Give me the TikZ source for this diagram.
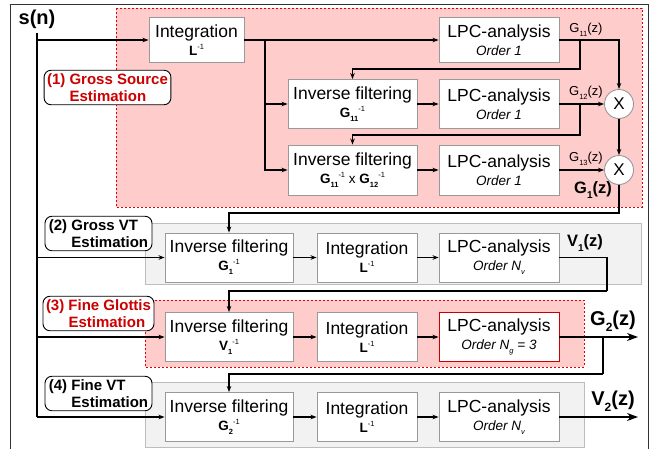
\documentclass[tikz,border=0pt]{standalone}
\usepackage{fontspec}
\setmainfont{Liberation Sans}
\usetikzlibrary{arrows.meta}
\definecolor{pinkfill}{HTML}{FFCCCC}
\definecolor{redline}{HTML}{E00000}
\definecolor{redtext}{HTML}{CC0000}
\definecolor{grayfill}{HTML}{F2F2F2}
\definecolor{grayline}{HTML}{BDBDBD}
\definecolor{boxline}{HTML}{999999}
\newcommand\upidx[1]{\raisebox{0.45em}{\fontsize{7.5}{8}\selectfont #1}}
\newcommand\dnidx[1]{\raisebox{-0.3em}{\fontsize{7.5}{8}\selectfont #1}}
\newcommand\secondline{\fontsize{13.5}{15}\selectfont}
\tikzset{
  blk/.style={draw=boxline, line width=0.9pt, fill=white, align=center, inner sep=0pt,
    font=\fontsize{17.5}{19}\selectfont},
  intbox/.style={blk, minimum width=100pt, minimum height=49pt},
  lpcbox/.style={blk, minimum width=120pt, minimum height=49pt},
  invbox/.style={blk, minimum width=128pt, minimum height=49pt},
  mulnode/.style={circle, draw=boxline, line width=0.9pt, fill=white, minimum size=29pt, inner sep=0pt,
    font=\fontsize{17}{19}\selectfont},
  stagelabel/.style={draw=black, line width=0.9pt, fill=white, rounded corners=7pt, align=left,
    inner xsep=3pt, inner ysep=3pt, font=\fontsize{15}{17.5}\selectfont\bfseries},
  pinkregion/.style={fill=pinkfill, draw=redline, line width=1pt, dash pattern=on 2pt off 2pt},
  grayregion/.style={fill=grayfill, draw=grayline, line width=1pt},
  conn/.style={line width=1.1pt},
  arr/.style={conn, -{Stealth[length=6pt,width=4.5pt]}},
  bigarr/.style={conn, -{Stealth[length=11pt,width=8pt]}},
  sig/.style={font=\fontsize{13}{15}\selectfont, inner sep=0pt},
  bigsig/.style={font=\fontsize{16.5}{18}\selectfont\bfseries, inner sep=0pt},
  hugesig/.style={font=\fontsize{20}{22}\selectfont\bfseries, inner sep=0pt},
}
\begin{document}
\begin{tikzpicture}[x=1pt,y=-1pt]
\useasboundingbox (0,0) rectangle (651,448);
% outer frame
\draw[line width=1pt, draw=black!80] (10,449) -- (10,4) -- (648,4) -- (648,449);
% regions
\path[pinkregion] (116,8) rectangle (642,207);
\path[grayregion] (145,223) rectangle (641,284);
\path[pinkregion] (145,300) rectangle (584,367);
\path[grayregion] (145,382) rectangle (584,447);

% input
\node[hugesig] (sn) at (37,19) {s(n)};
\coordinate (stop) at (37,33);
\coordinate (sbot) at (37,417);
\draw[line width=1.8pt] (stop) -- (sbot);

% stage 1
\node[blk, minimum width=95pt, minimum height=45pt] (int1) at (196.5,40)
  {Integration\\[-1pt]{\secondline\textbf{L}\upidx{-1}}};
\node[lpcbox, minimum height=45pt] (lpc1) at (499,40)
  {LPC-analysis\\[-1pt]{\secondline\itshape Order 1}};
\node[blk, minimum width=129pt, minimum height=49pt] (inv2) at (352.5,104)
  {Inverse filtering\\[-1pt]{\secondline\textbf{G}\dnidx{\textbf{11}}\upidx{-1}}};
\node[lpcbox] (lpc2) at (499,104)
  {LPC-analysis\\[-1pt]{\secondline\itshape Order 1}};
\node[blk, minimum width=129pt, minimum height=50pt] (inv3) at (352.5,170)
  {Inverse filtering\\[-1pt]{\secondline\textbf{G}\dnidx{\textbf{11}}\upidx{-1} x \textbf{G}\dnidx{\textbf{12}}\upidx{-1}}};
\node[lpcbox, minimum height=50pt] (lpc3) at (499,170)
  {LPC-analysis\\[-1pt]{\secondline\itshape Order 1}};
\node[mulnode] (x1) at (619,104) {X};
\node[mulnode] (x2) at (619,170) {X};

\coordinate (s1) at (37,40);
\draw[arr] (s1) -- (int1.west);
\coordinate (b1) at (265,40);
\draw[arr] (int1.east) -- (lpc1.west);
\draw[arr] (b1) |- (inv2.west);
\draw[arr] (b1) |- (inv3.west);
\draw[arr] (lpc1.east) -| (x1.north);
\coordinate (f1) at (580,40);
\coordinate (f1c) at (580,69);
\draw[arr] (f1) -- (f1c) -| (inv2.north);
\draw[arr] (inv2.east) -- (lpc2.west);
\draw[arr] (lpc2.east) -- (x1.west);
\coordinate (f2) at (580,104);
\coordinate (f2c) at (580,135);
\draw[arr] (f2) -- (f2c) -| (inv3.north);
\draw[arr] (inv3.east) -- (lpc3.west);
\draw[arr] (lpc3.east) -- (x2.west);
\draw[arr] (x1.south) -- (x2.north);
\node[sig] (g11) at (586,30) {G\dnidx{11}(z)};
\node[sig] (g12) at (586,93) {G\dnidx{12}(z)};
\node[sig] (g13) at (586,159) {G\dnidx{13}(z)};
\node[bigsig] (g1) at (593,190) {G\dnidx{\fontsize{10}{10}\selectfont 1}(z)};

\node[stagelabel, minimum width=123pt] (l1) at (107.5,87.5)
  {\color{redtext}(1) Gross Source\\\color{redtext}\hphantom{(1)~}Estimation};

% stage 2
\node[invbox] (invA) at (229,257.5)
  {Inverse filtering\\[-1pt]{\secondline\textbf{G}\dnidx{\textbf{1}}\upidx{-1}}};
\node[intbox] (intA) at (367,257.5)
  {Integration\\[-1pt]{\secondline\textbf{L}\upidx{-1}}};
\node[lpcbox] (lpcA) at (499,257.5)
  {LPC-analysis\\[-1pt]{\secondline\itshape Order N\dnidx{v}}};
\coordinate (x2d) at (619,213);
\draw[arr] (x2.south) -- (x2d) -| (invA.north);
\coordinate (s2) at (37,257.5);
\draw[arr] (s2) -- (invA.west);
\draw[arr] (invA.east) -- (intA.west);
\draw[arr] (intA.east) -- (lpcA.west);
\node[bigsig] (v1) at (585,243) {V\dnidx{\fontsize{10}{10}\selectfont 1}(z)};
\coordinate (vA) at (607,257.5);
\coordinate (vAd) at (607,291);
\draw[conn] (lpcA.east) -- (vA) -- (vAd);
\node[stagelabel, minimum width=107pt] (l2) at (98.5,233.5)
  {(2) Gross VT\\\hphantom{(2)~}Estimation};

% stage 3
\node[invbox] (invB) at (229,337)
  {Inverse filtering\\[-1pt]{\secondline\textbf{V}\dnidx{\textbf{1}}\upidx{-1}}};
\node[intbox] (intB) at (367,337)
  {Integration\\[-1pt]{\secondline\textbf{L}\upidx{-1}}};
\node[lpcbox, draw=redtext] (lpcB) at (499,337)
  {LPC-analysis\\[-1pt]{\secondline\itshape Order N\dnidx{g} = 3}};
\draw[arr] (vAd) -| (invB.north);
\coordinate (s3) at (37,337);
\draw[arr] (s3) -- (invB.west);
\draw[arr] (invB.east) -- (intB.west);
\draw[arr] (intB.east) -- (lpcB.west);
\coordinate (o3) at (638,337);
\draw[bigarr] (lpcB.east) -- (o3);
\node[hugesig] (g2) at (613,321) {G\dnidx{\fontsize{12}{12}\selectfont 2}(z)};
\coordinate (b3) at (603,337);
\coordinate (b3d) at (603,374);
\draw[conn] (b3) -- (b3d);
\node[stagelabel, minimum width=107pt] (l3) at (98.5,313.5)
  {\color{redtext}(3) Fine Glottis\\\color{redtext}\hphantom{(3)~}Estimation};

% stage 4
\node[invbox] (invC) at (229,417)
  {Inverse filtering\\[-1pt]{\secondline\textbf{G}\dnidx{\textbf{2}}\upidx{-1}}};
\node[intbox] (intC) at (367,417)
  {Integration\\[-1pt]{\secondline\textbf{L}\upidx{-1}}};
\node[lpcbox] (lpcC) at (499,417)
  {LPC-analysis\\[-1pt]{\secondline\itshape Order N\dnidx{v}}};
\draw[arr] (b3d) -| (invC.north);
\draw[arr] (sbot) -- (invC.west);
\draw[arr] (invC.east) -- (intC.west);
\draw[arr] (intC.east) -- (lpcC.west);
\coordinate (o4) at (638,417);
\draw[bigarr] (lpcC.east) -- (o4);
\node[hugesig] (v2) at (613,401) {V\dnidx{\fontsize{12}{12}\selectfont 2}(z)};
\node[stagelabel, minimum width=107pt] (l4) at (98.5,393.5)
  {(4) Fine VT\\\hphantom{(4)~}Estimation};
\end{tikzpicture}
\end{document}
